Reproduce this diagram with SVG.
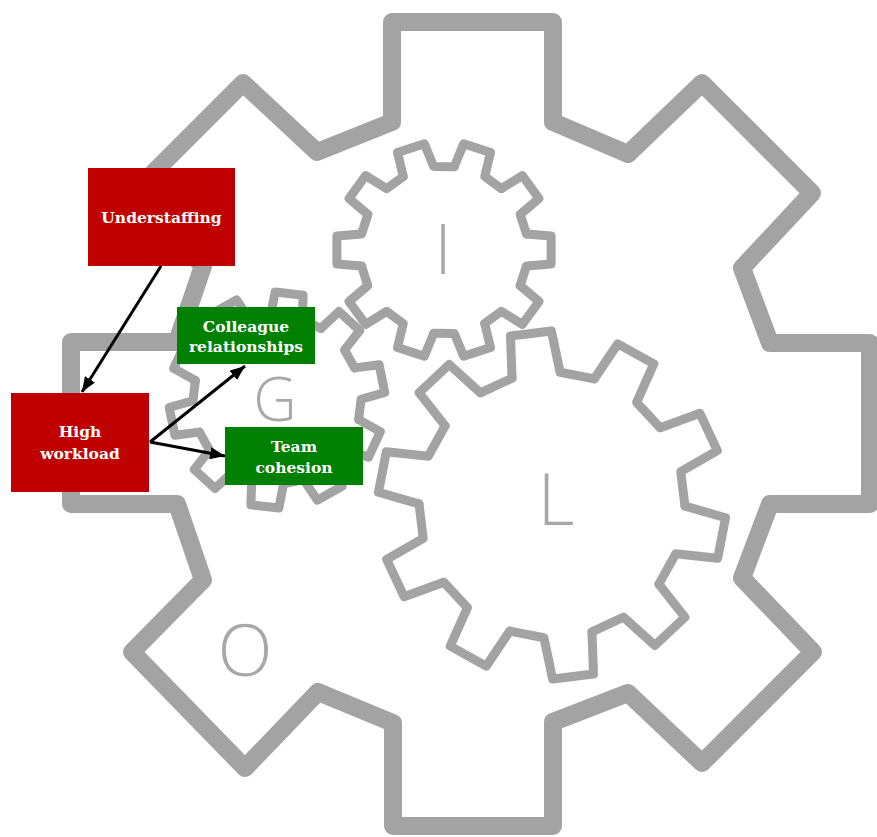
<svg xmlns="http://www.w3.org/2000/svg" xmlns:xlink="http://www.w3.org/1999/xlink" width="877" height="837" viewBox="0 0 877 837">
<style>
.gear{fill:none;stroke:#a3a3a3;stroke-linejoin:round;stroke-linecap:round}
.big{stroke-width:18}
.small{stroke-width:9}
.letter{font-family:"Open Sans","Liberation Sans",sans-serif;font-weight:300;fill:#a8a8a8;text-anchor:middle}
.red{fill:#c00000}
.green{fill:#008000}
.lbl{font-family:"DejaVu Serif","Liberation Serif",serif;font-weight:bold;font-size:15.5px;fill:#ffffff;text-anchor:middle}
.conn{stroke:#000;stroke-width:3;fill:none}
</style>
<defs>
<marker id="ah" markerUnits="userSpaceOnUse" markerWidth="16" markerHeight="12" refX="15" refY="6" orient="auto">
<path d="M0,0 L15,6 L0,12 z" fill="#000"/>
</marker>
<path id="tL" class="gear small" d="M-24.2,-130.8 L-20.6,-172.8 L20.6,-172.8 L24.2,-130.8 L57.3,-120.0"/>
<path id="tS" class="gear small" d="M-16,-82.5 L-14.1,-107.1 L14.1,-107.1 L16,-82.5 L35.5,-76.1"/>
</defs>
<rect width="877" height="837" fill="#ffffff"/>
<g id="gear-O">
<path class="gear big" d="M392,22 L553,22 L553,122 L628,154 L702,83 L812,193 L742,268 L770,343 L870,343 L870,504 L770,504 L742,578 L813,652 L702,763 L628,693 L553,722 L553,826 L393,826 L393,723 L318,692 L245,768 L132,652 L203,580 L177,504 L71,504 L71,342 L177,342 L203,266 L132,194 L243,83 L317,152 L392,122 Z"/>
<text class="letter" x="245" y="676" font-size="72">O</text>
</g>
<g id="gear-I">
<use xlink:href="#tS" transform="translate(444,250) rotate(-18)"/>
<use xlink:href="#tS" transform="translate(444,250) rotate(18)"/>
<use xlink:href="#tS" transform="translate(444,250) rotate(54)"/>
<use xlink:href="#tS" transform="translate(444,250) rotate(90)"/>
<use xlink:href="#tS" transform="translate(444,250) rotate(126)"/>
<use xlink:href="#tS" transform="translate(444,250) rotate(162)"/>
<use xlink:href="#tS" transform="translate(444,250) rotate(198)"/>
<use xlink:href="#tS" transform="translate(444,250) rotate(234)"/>
<use xlink:href="#tS" transform="translate(444,250) rotate(270)"/>
<use xlink:href="#tS" transform="translate(444,250) rotate(306)"/>
<text class="letter" x="443" y="274" font-size="70">I</text>
</g>
<g id="gear-G">
<use xlink:href="#tS" transform="translate(277,400) rotate(6.5)"/>
<use xlink:href="#tS" transform="translate(277,400) rotate(42.5)"/>
<use xlink:href="#tS" transform="translate(277,400) rotate(78.5)"/>
<use xlink:href="#tS" transform="translate(277,400) rotate(114.5)"/>
<use xlink:href="#tS" transform="translate(277,400) rotate(150.5)"/>
<use xlink:href="#tS" transform="translate(277,400) rotate(186.5)"/>
<use xlink:href="#tS" transform="translate(277,400) rotate(222.5)"/>
<use xlink:href="#tS" transform="translate(277,400) rotate(258.5)"/>
<use xlink:href="#tS" transform="translate(277,400) rotate(294.5)"/>
<use xlink:href="#tS" transform="translate(277,400) rotate(330.5)"/>
<text class="letter" x="275" y="421" font-size="60">G</text>
</g>
<g id="gear-L">
<use xlink:href="#tL" transform="translate(552,505) rotate(-7)"/>
<use xlink:href="#tL" transform="translate(552,505) rotate(29)"/>
<use xlink:href="#tL" transform="translate(552,505) rotate(65)"/>
<use xlink:href="#tL" transform="translate(552,505) rotate(101)"/>
<use xlink:href="#tL" transform="translate(552,505) rotate(137)"/>
<use xlink:href="#tL" transform="translate(552,505) rotate(173)"/>
<use xlink:href="#tL" transform="translate(552,505) rotate(209)"/>
<use xlink:href="#tL" transform="translate(552,505) rotate(245)"/>
<use xlink:href="#tL" transform="translate(552,505) rotate(281)"/>
<use xlink:href="#tL" transform="translate(552,505) rotate(317)"/>
<text class="letter" x="556" y="525" font-size="72">L</text>
</g>
<g id="connectors">
<line class="conn" x1="161" y1="266" x2="82" y2="392" marker-end="url(#ah)"/>
<line class="conn" x1="150" y1="442" x2="245" y2="366" marker-end="url(#ah)"/>
<line class="conn" x1="150" y1="442" x2="225" y2="456" marker-end="url(#ah)"/>
</g>
<g id="understaffing">
<rect class="red" x="88" y="168" width="147" height="98"/>
<text class="lbl" x="161.5" y="223">Understaffing</text>
</g>
<g id="high-workload">
<rect class="red" x="11" y="393" width="138" height="99"/>
<text class="lbl" x="80" y="437">High</text>
<text class="lbl" x="80" y="459">workload</text>
</g>
<g id="colleague-relationships">
<rect class="green" x="177" y="307" width="138" height="57"/>
<text class="lbl" x="246" y="332">Colleague</text>
<text class="lbl" x="246" y="352">relationships</text>
</g>
<g id="team-cohesion">
<rect class="green" x="225" y="427" width="138" height="58"/>
<text class="lbl" x="294" y="452">Team</text>
<text class="lbl" x="294" y="473">cohesion</text>
</g>
</svg>
